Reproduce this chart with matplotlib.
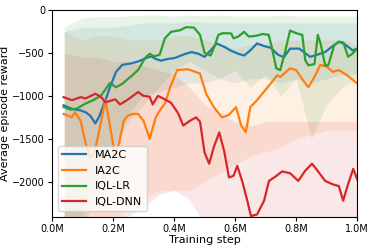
"""Episode reward curves for the four agents."""

import matplotlib
matplotlib.use('Agg')
import matplotlib.pyplot as plt
from matplotlib.ticker import FuncFormatter


# mean curves, steps in millions
ma2c_x = [0.038, 0.065, 0.094, 0.11, 0.125, 0.142, 0.155, 0.175, 0.19, 0.21, 0.23,
          0.262, 0.282, 0.305, 0.325, 0.34, 0.357, 0.38, 0.402, 0.43, 0.457, 0.48,
          0.50, 0.52, 0.54, 0.565, 0.587, 0.61, 0.63, 0.65, 0.672, 0.695, 0.717,
          0.74, 0.76, 0.78, 0.81, 0.846, 0.87, 0.895, 0.92, 0.94, 0.96, 0.985, 1.0]
ma2c_y = [-1110, -1150, -1170, -1190, -1230, -1320, -1240, -1050, -900, -720, -640,
          -620, -600, -565, -540, -570, -590, -570, -560, -520, -490, -510,
          -546, -470, -390, -430, -475, -510, -530, -470, -390, -420, -440,
          -520, -550, -450, -450, -546, -520, -490, -420, -370, -400, -470, -450]

ia2c_x = [0.038, 0.065, 0.075, 0.094, 0.11, 0.125, 0.14, 0.155, 0.175, 0.19, 0.207,
          0.22, 0.235, 0.249, 0.265, 0.282, 0.30, 0.32, 0.34, 0.357, 0.37, 0.387,
          0.41, 0.446, 0.485, 0.505, 0.53, 0.557, 0.58, 0.603, 0.62, 0.635, 0.65,
          0.672, 0.695, 0.717, 0.738, 0.748, 0.78, 0.80, 0.823, 0.84, 0.86, 0.879,
          0.90, 0.92, 0.94, 0.967, 1.0]
ia2c_y = [-1210, -1250, -1190, -1290, -1550, -1720, -1650, -1400, -1050, -1350, -1700,
          -1550, -1290, -1230, -1210, -1210, -1290, -1500, -1250, -1150, -1090, -900,
          -700, -690, -740, -975, -1130, -1250, -1220, -1130, -1345, -1425, -1130,
          -1050, -950, -855, -760, -780, -680, -700, -820, -900, -780, -640,
          -660, -720, -700, -760, -855]

iqllr_x = [0.038, 0.06, 0.08, 0.11, 0.135, 0.16, 0.18, 0.19, 0.21, 0.23, 0.26,
           0.282, 0.305, 0.32, 0.335, 0.353, 0.37, 0.39, 0.42, 0.44, 0.465, 0.485,
           0.50, 0.52, 0.535, 0.545, 0.56, 0.587, 0.595, 0.61, 0.63, 0.645, 0.67,
           0.69, 0.71, 0.72, 0.735, 0.748, 0.765, 0.78, 0.80, 0.82, 0.83, 0.84,
           0.86, 0.871, 0.88, 0.895, 0.905, 0.925, 0.94, 0.955, 0.97, 0.985, 1.0]
iqllr_y = [-1130, -1160, -1150, -1090, -1050, -1000, -900, -850, -900, -860, -770,
           -700, -560, -510, -540, -520, -330, -255, -235, -200, -205, -290,
           -500, -530, -400, -290, -270, -273, -330, -310, -255, -310, -300,
           -280, -290, -430, -680, -700, -470, -240, -270, -290, -585, -645,
           -630, -290, -390, -645, -645, -410, -370, -380, -545, -507, -450]

iqldnn_x = [0.038, 0.065, 0.094, 0.11, 0.142, 0.16, 0.175, 0.207, 0.223, 0.25, 0.265,
            0.282, 0.30, 0.32, 0.33, 0.347, 0.364, 0.39, 0.413, 0.43, 0.452, 0.472,
            0.485, 0.50, 0.515, 0.53, 0.548, 0.564, 0.58, 0.595, 0.607, 0.623, 0.64,
            0.652, 0.672, 0.695, 0.711, 0.734, 0.754, 0.78, 0.807, 0.83, 0.852, 0.87,
            0.895, 0.92, 0.94, 0.954, 0.97, 0.987, 1.0]
iqldnn_y = [-1015, -1050, -1015, -1030, -975, -1010, -1075, -1040, -1100, -1040, -1000,
            -955, -1000, -1010, -1100, -1000, -1030, -1080, -1200, -1345, -1290, -1250,
            -1300, -1660, -1790, -1600, -1425, -1640, -1950, -1930, -1815, -1990, -2220,
            -2400, -2380, -2220, -1990, -1935, -1880, -1900, -1990, -1870, -1790, -1870,
            -1990, -2030, -2050, -2220, -2030, -1850, -1970]

# spread bands (rough read of the shaded areas)
band_x = [0.04, 0.1, 0.15, 0.2, 0.25, 0.3, 0.35, 0.4, 0.45, 0.5,
          0.55, 0.6, 0.65, 0.7, 0.75, 0.8, 0.85, 0.9, 0.95, 1.0]
ma2c_hi = [-250, -200, -200, -200, -180, -150, -150, -150, -130, -150,
           -150, -150, -150, -150, -150, -150, -150, -150, -150, -150]
ma2c_lo = [-2600, -2500, -2200, -1700, -1200, -1000, -950, -900, -850, -850,
           -800, -850, -800, -800, -850, -800, -850, -800, -750, -750]
ia2c_hi = [-250, -350, -300, -300, -350, -350, -350, -300, -300, -350,
           -400, -450, -400, -400, -350, -350, -350, -350, -350, -400]
ia2c_lo = [-2600, -2600, -2600, -2500, -2300, -2200, -2100, -2100, -2100, -2000,
           -1900, -1800, -1700, -1650, -1600, -1500, -1450, -1400, -1400, -1400]
iqllr_hi = [-200, -90, -80, -80, -70, -60, -60, -70, -60, -70,
            -60, -70, -70, -70, -60, -70, -70, -70, -70, -70]
iqllr_lo = [-2600, -2400, -1900, -1600, -1300, -1100, -900, -700, -600, -700,
            -800, -700, -900, -750, -1000, -800, -1500, -1100, -900, -800]
iqldnn_hi = [-500, -550, -550, -600, -600, -650, -700, -750, -900, -1100,
             -1200, -1300, -1350, -1300, -1300, -1300, -1300, -1300, -1300, -1300]
iqldnn_lo = [-2600, -2600, -2500, -2500, -2400, -2300, -2150, -2100, -2200, -2500,
             -2600, -2600, -2600, -2600, -2600, -2600, -2600, -2600, -2600, -2600]

series = [
  ('MA2C', '#1f77b4', ma2c_x, ma2c_y, ma2c_lo, ma2c_hi),
  ('IA2C', '#ff7f0e', ia2c_x, ia2c_y, ia2c_lo, ia2c_hi),
  ('IQL-LR', '#2ca02c', iqllr_x, iqllr_y, iqllr_lo, iqllr_hi),
  ('IQL-DNN', '#d62728', iqldnn_x, iqldnn_y, iqldnn_lo, iqldnn_hi),
]


def main():
  fig = plt.figure(figsize=(3.74, 2.49), dpi=100)
  ax = fig.add_axes([0.139, 0.1285, 0.816, 0.8315])

  for name, color, xs, ys, lo, hi in series:
    bx = [v * 1e6 for v in band_x]
    ax.fill_between(bx, lo, hi, color=color, alpha=0.11, linewidth=0)
  for name, color, xs, ys, lo, hi in series:
    ax.plot([v * 1e6 for v in xs], ys, color=color, lw=1.6, label=name)

  ax.set_xlim(0, 1e6)
  ax.set_ylim(-2410, 0)
  ax.set_xticks([0, 2e5, 4e5, 6e5, 8e5, 1e6])
  ax.set_yticks([0, -500, -1000, -1500, -2000])
  ax.xaxis.set_major_formatter(FuncFormatter(lambda v, p: '{:.1f}M'.format(v / 1e6)))
  ax.tick_params(labelsize=7, length=3, pad=2)
  ax.set_xlabel('Training step', fontsize=8, labelpad=1)
  ax.set_ylabel('Average episode reward', fontsize=8, labelpad=2)
  ax.legend(loc='lower left', fontsize=8, handlelength=2.2)

  fig.savefig('out.png', dpi=100)


if __name__ == "__main__":
  main()
